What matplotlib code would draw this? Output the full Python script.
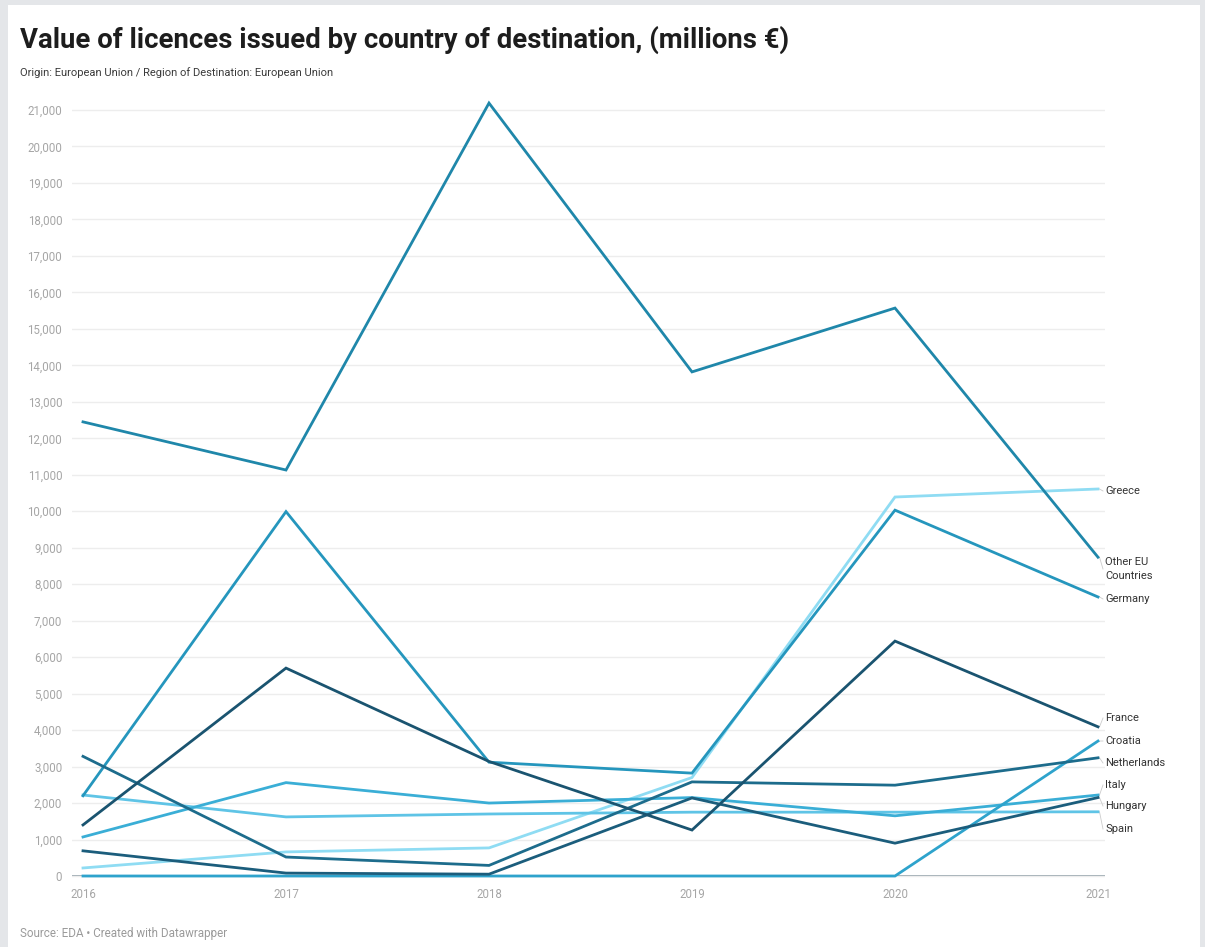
import matplotlib.pyplot as plt
from matplotlib.patches import Rectangle
from matplotlib.ticker import FuncFormatter

plt.rcParams['font.family'] = ['Roboto', 'DejaVu Sans']

years = [2016, 2017, 2018, 2019, 2020, 2021]

# value of licences, millions EUR
other_eu = [12450, 11130, 21190, 13820, 15570, 8740]
greece = [220, 660, 770, 2700, 10390, 10610]
germany = [2200, 9990, 3120, 2820, 10030, 7650]
france = [1400, 5700, 3140, 1260, 6440, 4090]
croatia = [0, 0, 0, 0, 0, 3700]
netherlands = [3280, 520, 290, 2580, 2490, 3240]
italy = [1070, 2560, 2000, 2150, 1650, 2220]
hungary = [690, 80, 50, 2140, 900, 2150]
spain = [2220, 1620, 1700, 1750, 1750, 1760]

series = [
    ('Greece', greece, '#8fdcf3'),
    ('Spain', spain, '#5fc4e6'),
    ('Italy', italy, '#3aaed6'),
    ('Croatia', croatia, '#2ea3cc'),
    ('Germany', germany, '#2596bd'),
    ('Other EU\nCountries', other_eu, '#1f87aa'),
    ('Netherlands', netherlands, '#1d6c8c'),
    ('Hungary', hungary, '#1b5d7c'),
    ('France', france, '#1a5470'),
]

# where each end label sits (in value units) after spreading them apart
label_y = {
    'Greece': 10555,
    'Other EU\nCountries': 8416,
    'Germany': 7594,
    'France': 4331,
    'Croatia': 3701,
    'Netherlands': 3098,
    'Italy': 2495,
    'Hungary': 1919,
    'Spain': 1288,
}

W, H = 1205, 947
fig = plt.figure(figsize=(W / 100, H / 100), dpi=100)
fig.patch.set_facecolor('#e4e6e9')
fig.patches.append(Rectangle((8 / W, 0), (1200 - 8) / W, (H - 5) / H,
                             transform=fig.transFigure, facecolor='white',
                             edgecolor='none', zorder=-1))

ax = fig.add_axes([72 / W, (H - 880) / H, (1105 - 72) / W, (880 - 100) / H])
ax.set_zorder(1)
ax.set_facecolor('none')

px_year = (1098 - 83) / 5
ax.set_xlim(2016 - 11 / px_year, 2021 + 7 / px_year)
px_val = (876 - 110) / 21000
ax.set_ylim(-4 / px_val, (876 - 100) / px_val)

ax.set_yticks(range(0, 22000, 1000))
ax.yaxis.set_major_formatter(FuncFormatter(lambda v, p: f'{int(v):,}'))
ax.set_xticks(years)
ax.tick_params(axis='both', length=0, labelsize=8.3, labelcolor='#a6a6a6')
ax.tick_params(axis='y', pad=7)
ax.tick_params(axis='x', pad=6)

for s in ax.spines.values():
    s.set_visible(False)
ax.grid(axis='y', color='#ededed', linewidth=1)
ax.axhline(0, color='#8a9aa3', linewidth=1.2, zorder=1)

for name, vals, color in series:
    ax.plot(years, vals, color=color, linewidth=2, solid_joinstyle='miter',
            zorder=3, clip_on=False)
    ly = label_y[name]
    ax.annotate(name, xy=(2021, vals[-1]), xytext=(2021 + 7 / px_year, ly),
                textcoords='data', fontsize=8, color='#333333',
                va='center', ha='left', annotation_clip=False,
                linespacing=1.5)
    ax.plot([2021 + 1.5 / px_year, 2021 + 5 / px_year], [vals[-1], ly],
            color='#cccccc', linewidth=0.6, clip_on=False)

fig.text(20 / W, 1 - 40 / H, 'Value of licences issued by country of destination, (millions €)',
         fontsize=19.8, fontweight='bold', color='#1d1d1d', va='center', ha='left')
fig.text(20 / W, 1 - 73 / H, 'Origin: European Union / Region of Destination: European Union',
         fontsize=8, color='#3a3a3a', va='center', ha='left')
fig.text(20 / W, 1 - 933 / H, 'Source: EDA • Created with Datawrapper',
         fontsize=8.4, color='#9a9a9a', va='center', ha='left')

fig.savefig('out.png', dpi=100)
